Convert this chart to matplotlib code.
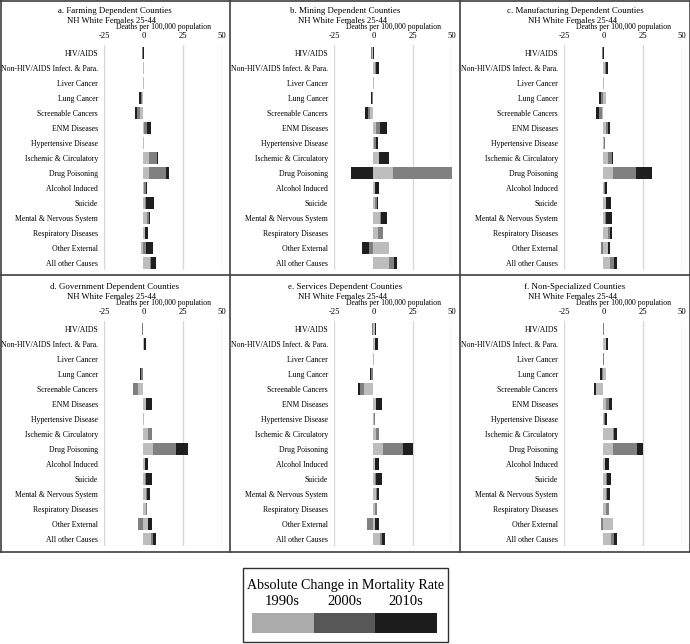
import matplotlib
matplotlib.use("Agg")
import matplotlib.pyplot as plt
from matplotlib.patches import Rectangle
import numpy as np

plt.rcParams['font.family'] = ['Liberation Serif', 'DejaVu Serif']

categories = ["HIV/AIDS", "Non-HIV/AIDS Infect. & Para.", "Liver Cancer", "Lung Cancer",
              "Screenable Cancers", "ENM Diseases", "Hypertensive Disease",
              "Ischemic & Circulatory", "Drug Poisoning", "Alcohol Induced", "Suicide",
              "Mental & Nervous System", "Respiratory Diseases", "Other External",
              "All other Causes"]
panel_titles = ["a. Farming Dependent Counties", "b. Mining Dependent Counties",
                "c. Manufacturing Dependent Counties", "d. Government Dependent Counties",
                "e. Services Dependent Counties", "f. Non-Specialized Counties"]
subtitle = "NH White Females 25-44"
x_label = "Deaths per 100,000 population"
x_ticks = [-25, 0, 25, 50]
grid_ticks = [-25, 25, 50]
series_names = ["1990s", "2000s", "2010s"]
legend_title = "Absolute Change in Mortality Rate"

farming_1990s = [-0.3, 0.3, 0.2, -0.8, -2.0, 0.6, 0.3, 3.8, 3.8, 0.5, 1.2, 2.5, 1.0, -1.5, 4.2]
farming_2000s = [-0.6, 0.2, 0.1, -0.9, -2.0, 1.5, 0.2, 4.7, 10.6, 1.0, 0.5, 0.8, 0.3, 2.0, 0.6]
farming_2010s = [0.2, 0.1, 0.1, -0.9, -1.5, 2.5, 0.1, 0.6, 2.1, 0.8, 5.0, 1.0, 1.5, 4.0, 3.2]

mining_1990s = [-0.6, 1.3, 0.2, -0.4, -2.0, 2.0, 0.6, 3.4, 12.5, 1.0, 1.0, 4.2, 3.2, 9.8, 10.2]
mining_2000s = [-1.0, 0.3, 0.1, -0.6, -1.7, 2.5, 0.8, 0.4, 37.5, 0.2, 1.3, 0.4, 3.2, -3.0, 3.0]
mining_2010s = [0.3, 2.3, 0.1, -0.5, -1.7, 4.5, 1.7, 6.0, -14.0, 2.3, 0.8, 3.8, 0.0, -4.0, 1.7]

manufacturing_1990s = [-0.4, 1.2, 0.2, 1.7, -1.0, 2.0, 0.6, 3.2, 6.0, 0.5, 1.5, 1.0, 3.0, 3.0, 4.2]
manufacturing_2000s = [-0.3, 0.6, 0.1, -1.3, -1.5, 1.0, 0.5, 2.1, 14.9, 0.3, 0.5, 1.0, 1.3, -1.7, 2.5]
manufacturing_2010s = [0.3, 1.2, 0.1, -1.2, -2.0, 1.5, 0.1, 1.1, 10.0, 1.8, 2.8, 3.3, 1.3, 1.3, 2.3]

government_1990s = [-0.3, 0.4, 0.1, -0.5, -3.6, 1.7, 0.3, 2.8, 6.4, 0.8, 1.0, 2.0, 2.0, 3.2, 4.7]
government_2000s = [-0.5, 0.3, 0.0, -1.2, -2.7, 0.3, 0.2, 2.5, 14.5, 0.3, 0.5, 0.3, 0.5, -3.6, 1.7]
government_2010s = [0.0, 1.2, 0.0, -0.4, -0.3, 3.2, 0.1, 0.2, 7.2, 2.0, 4.0, 2.0, 0.1, 2.1, 1.7]

services_1990s = [1.2, 1.0, 0.2, -0.5, -5.7, 1.5, 0.5, 2.0, 6.0, 0.8, 1.3, 2.0, 1.0, 1.3, 4.2]
services_2000s = [-1.0, 0.2, 0.1, -1.0, -2.8, 0.3, 0.3, 1.3, 12.8, 0.3, 0.5, 0.3, 1.5, -3.8, 1.5]
services_2010s = [0.2, 1.5, 0.0, -0.6, -1.3, 3.4, 0.3, 0.1, 6.4, 2.5, 3.5, 1.5, 0.1, 2.1, 1.9]

nonspecialized_1990s = [0.1, 1.5, 0.1, 1.5, -4.5, 2.0, 0.5, 6.4, 6.0, 1.0, 2.0, 2.0, 1.7, 6.0, 4.7]
nonspecialized_2000s = [0.1, 0.5, 0.1, -0.8, -0.3, 1.3, 0.3, 0.3, 15.3, 0.2, 0.3, 0.6, 1.9, -1.2, 2.1]
nonspecialized_2010s = [0.0, 1.0, 0.0, -1.5, -1.0, 2.3, 1.3, 1.9, 3.8, 2.3, 2.3, 1.7, 0.1, -0.5, 2.1]

panels_data = [
    (farming_1990s, farming_2000s, farming_2010s),
    (mining_1990s, mining_2000s, mining_2010s),
    (manufacturing_1990s, manufacturing_2000s, manufacturing_2010s),
    (government_1990s, government_2000s, government_2010s),
    (services_1990s, services_2000s, services_2010s),
    (nonspecialized_1990s, nonspecialized_2000s, nonspecialized_2010s),
]

bar_colors = ["#bdbdbd", "#808080", "#1f1f1f"]
legend_colors = ["#ababab", "#575757", "#1c1c1c"]

W, H = 690, 644
fig = plt.figure(figsize=(W / 100, H / 100), dpi=100)


def fx(x):
    return x / W


def fy(y):
    return 1 - y / H


panel_w = 230
row_offsets = [0, 276]
ax_left, ax_right = 104, 222
ax_top, ax_bottom = 45.2, 270.2
y_pos = np.arange(len(categories))

for idx, (title, data) in enumerate(zip(panel_titles, panels_data)):
    r, c = divmod(idx, 3)
    ox, oy = c * panel_w, row_offsets[r]
    ax = fig.add_axes([fx(ox + ax_left), fy(oy + ax_bottom),
                       (ax_right - ax_left) / W, (ax_bottom - ax_top) / H])
    pos_base = np.zeros(len(categories))
    neg_base = np.zeros(len(categories))
    for vals, col in zip(data, bar_colors):
        v = np.asarray(vals, dtype=float)
        left = np.where(v >= 0, pos_base, neg_base)
        ax.barh(y_pos, v, left=left, height=0.82, color=col, edgecolor='none', zorder=3)
        pos_base = pos_base + np.where(v >= 0, v, 0)
        neg_base = neg_base + np.where(v < 0, v, 0)
    ax.set_xlim(-25, 50)
    ax.set_ylim(len(categories) - 0.5, -0.5)
    ax.set_xticks(x_ticks)
    ax.set_xticklabels([str(t) for t in x_ticks])
    ax.set_yticks(y_pos)
    ax.set_yticklabels(categories)
    ax.xaxis.tick_top()
    ax.tick_params(axis='x', length=0, pad=3.8, labelsize=6.2)
    ax.tick_params(axis='y', length=0, pad=4.3, labelsize=5.6)
    for s in ax.spines.values():
        s.set_visible(False)
    for g in grid_ticks:
        ax.axvline(g, color='#d9d9d9', linewidth=1.0, zorder=0)
    ax.text(0.5, 1 + (ax_top - 26.9) / (ax_bottom - ax_top), x_label,
            transform=ax.transAxes, ha='center', va='center', fontsize=5.6)
    fig.text(fx(ox + 115), fy(oy + 10.7), title, ha='center', va='center', fontsize=6.4)
    fig.text(fx(ox + 112), fy(oy + 20.9), subtitle, ha='center', va='center', fontsize=6.2)

# panel frames
frame_col = '#404040'
for xv in [0.5, 230, 460, 689.5]:
    fig.add_artist(plt.Line2D([fx(xv), fx(xv)], [fy(0.5), fy(552)], color=frame_col, linewidth=1.2))
for yv in [0.5, 275, 552]:
    fig.add_artist(plt.Line2D([fx(0), fx(690)], [fy(yv), fy(yv)], color=frame_col, linewidth=1.2))

# legend box
lx0, lx1, ly0, ly1 = 243, 448, 568, 642
fig.add_artist(Rectangle((fx(lx0), fy(ly1)), (lx1 - lx0) / W, (ly1 - ly0) / H,
                         fill=False, edgecolor='#303030', linewidth=1.0))
fig.text(fx(345.5), fy(585), legend_title, ha='center', va='center', fontsize=10.1)
patch_x0, patch_w = 251.7, 61.8
for i, (name, col) in enumerate(zip(series_names, legend_colors)):
    px = patch_x0 + i * patch_w
    fig.add_artist(Rectangle((fx(px), fy(633)), patch_w / W, 20 / H,
                             facecolor=col, edgecolor='none'))
    fig.text(fx(px + patch_w / 2), fy(601.5), name, ha='center', va='center', fontsize=10.5)

fig.savefig("out.png", dpi=100)
